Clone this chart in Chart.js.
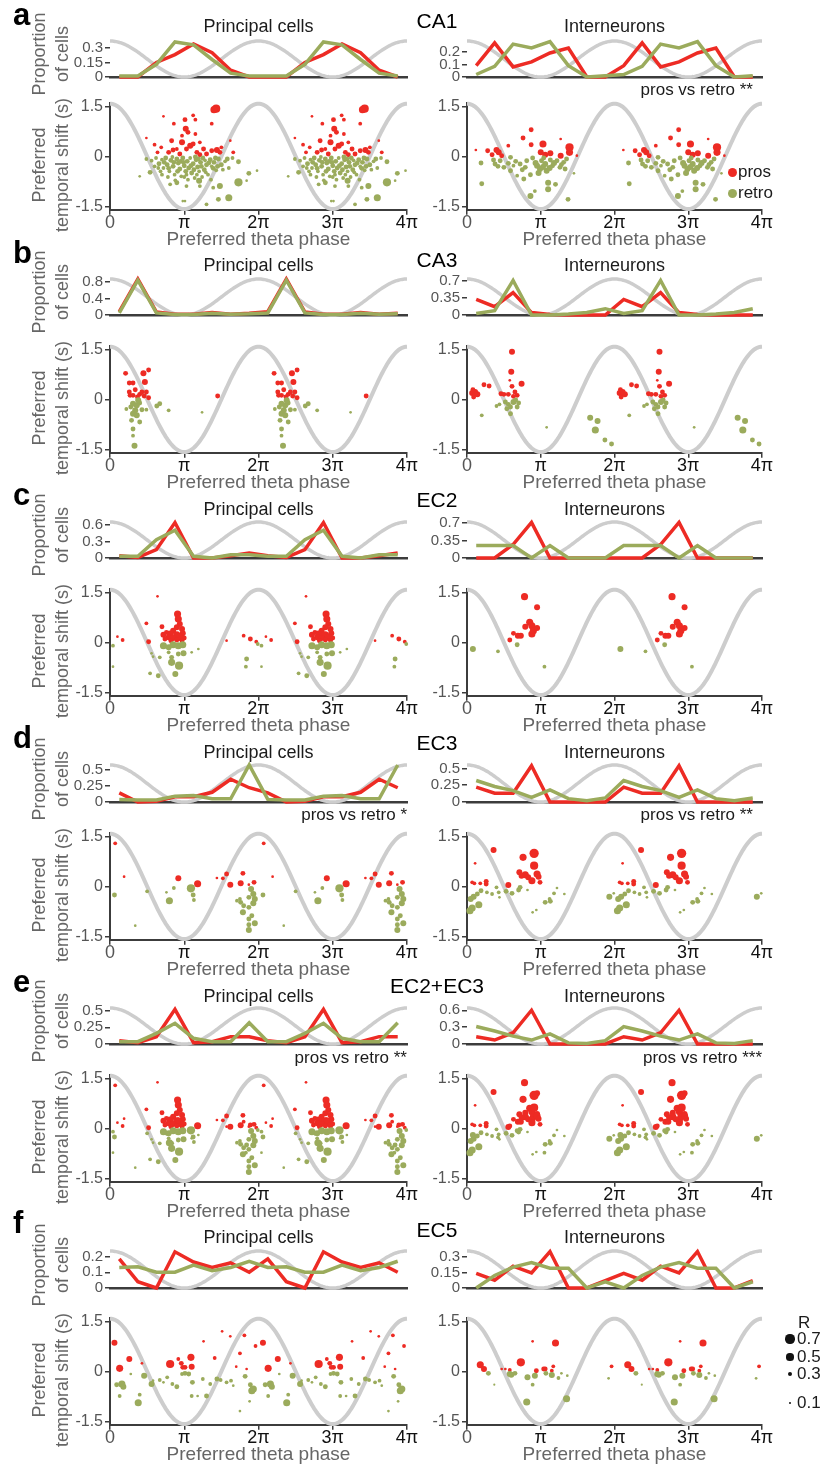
<!DOCTYPE html>
<html>
<head>
<meta charset="utf-8">
<script src="https://cdn.jsdelivr.net/npm/chart.js@4.4.1/dist/chart.umd.min.js"></script>
<style>
  body { margin:0; background:#fff; width:825px; height:1464px; position:relative; overflow:hidden;
         font-family:"Liberation Sans", Arial, sans-serif; }
  .box { position:absolute; }
  .txt { position:absolute; white-space:nowrap; line-height:1; }
  .dot { position:absolute; border-radius:50%; }
</style>
</head>
<body>
<script>
// phase in units of pi, shift in s, R = theta modulation strength
const binPhase = [0.125, 0.375, 0.625, 0.875, 1.125, 1.375, 1.625, 1.875];
const xTickLabels = ['0', 'π', '2π', '3π', '4π'];
const shiftTicks = [-1.5, 0, 1.5];
const rLegend = [0.7, 0.5, 0.3, 0.1];

// proportion of cells per phase bin (one theta cycle)
const propCa1PrinPros  = [0, 0, 0.15, 0.23, 0.34, 0.25, 0.07, 0];
const propCa1PrinRetro = [0.01, 0.01, 0.13, 0.36, 0.33, 0.18, 0.04, 0.01];
const propCa1IntPros   = [0.09, 0.27, 0.08, 0.12, 0.19, 0.23, 0, 0];
const propCa1IntRetro  = [0.02, 0.085, 0.26, 0.23, 0.28, 0.09, 0, 0.01];
const propCa3PrinPros  = [0.08, 0.87, 0.07, 0.02, 0.02, 0.06, 0.02, 0.04];
const propCa3PrinRetro = [0.05, 0.84, 0.05, 0.01, 0.01, 0.04, 0.02, 0.03];
const propCa3IntPros   = [0.32, 0.17, 0.46, 0.05, 0.01, 0, 0, 0];
const propCa3IntRetro  = [0.03, 0.09, 0.71, 0, 0, 0.02, 0.05, 0.13];
const propEc2PrinPros  = [0.04, 0.01, 0.15, 0.64, 0, 0, 0.04, 0.09];
const propEc2PrinRetro = [0.03, 0.03, 0.33, 0.5, 0.03, 0, 0.06, 0.06];
const propEc2IntPros   = [0, 0, 0.27, 0.71, 0, 0, 0, 0];
const propEc2IntRetro  = [0.25, 0.25, 0.25, 0, 0.25, 0, 0, 0];
const propEc3PrinPros  = [0.14, 0, 0.01, 0.08, 0.08, 0.15, 0.35, 0.22];
const propEc3PrinRetro = [0.04, 0.03, 0.03, 0.09, 0.1, 0.05, 0.05, 0.57];
const propEc3IntPros   = [0.22, 0.13, 0.13, 0.54, 0, 0, 0, 0];
const propEc3IntRetro  = [0.32, 0.23, 0.17, 0.07, 0.18, 0.05, 0.02, 0.06];
const propEc23PrinPros  = [0.05, 0.02, 0.11, 0.52, 0.02, 0.035, 0.11, 0.11];
const propEc23PrinRetro = [0.035, 0.035, 0.16, 0.31, 0.085, 0.035, 0.035, 0.32];
const propEc23IntPros   = [0.13, 0.07, 0.2, 0.6, 0, 0, 0, 0];
const propEc23IntRetro  = [0.31, 0.23, 0.14, 0.07, 0.18, 0.02, 0.01, 0.06];
const propEc5PrinPros  = [0.185, 0.04, 0, 0.23, 0.165, 0.13, 0.16, 0.1];
const propEc5PrinRetro = [0.13, 0.135, 0.1, 0.1, 0.145, 0.11, 0.13, 0.17];
const propEc5IntPros   = [0.14, 0.075, 0.21, 0.145, 0.35, 0, 0, 0.07];
const propEc5IntRetro  = [0, 0.12, 0.2, 0.245, 0.19, 0.19, 0, 0.06];

const propTicksCa1Prin = [0, 0.15, 0.3], propTicksCa1Int = [0, 0.1, 0.2];
const propTicksCa3Prin = [0, 0.4, 0.8],  propTicksCa3Int = [0, 0.35, 0.7];
const propTicksEc2Prin = [0, 0.3, 0.6],  propTicksEc2Int = [0, 0.35, 0.7];
const propTicksEc3Prin = [0, 0.25, 0.5], propTicksEc3Int = [0, 0.25, 0.5];
const propTicksEc23Prin = [0, 0.25, 0.5], propTicksEc23Int = [0, 0.3, 0.6];
const propTicksEc5Prin = [0, 0.1, 0.2],  propTicksEc5Int = [0, 0.15, 0.3];

// single cells: [phase, shift, R]
const ca1PrinPros = [[1.43,1.43,0.6],[1.40,1.40,0.5],[1.12,1.23,0.2],[0.72,1.2,0.1],[1.01,1.1,0.3],[1.15,1.1,0.2],[1.37,0.98,0.2],[0.49,0.55,0.1],[0.86,0.98,0.2],[1.02,0.83,0.4],[1.05,0.72,0.3],[0.97,0.62,0.2],[1.15,0.67,0.2],[0.83,0.47,0.3],[0.97,0.42,0.4],[1.08,0.32,0.4],[1.12,0.37,0.3],[1.21,0.42,0.2],[0.6,0.35,0.2],[0.69,0.27,0.2],[0.85,0.19,0.3],[0.79,0.12,0.3],[0.9,0.22,0.2],[1.03,0.22,0.3],[1.26,0.22,0.3],[1.37,0.17,0.3],[1.48,0.12,0.3],[1.62,0.47,0.1],[1.66,0.12,0.2],[0.64,0.12,0.2],[1.17,0.12,0.3],[1.3,0.07,0.3],[0.94,0.07,0.3],[1.44,0.19,0.4],[1.5,0.27,0.2],[1.21,0.05,0.3]];
const ca1PrinRetro = [[0.4,-0.6,0.1],[0.54,-0.48,0.3],[0.56,-0.13,0.2],[0.49,-0.08,0.2],[1.73,-0.78,0.6],[1.6,-1.24,0.5],[1.46,-1.29,0.3],[1.3,-1.44,0.2],[0.98,-1.34,0.1],[1.01,-1.34,0.1],[1.48,-0.89,0.4],[1.87,-0.51,0.3],[1.98,-0.43,0.1],[1.84,-0.73,0.1],[1.73,-0.16,0.3],[1.2,-0.73,0.4],[1.39,-0.94,0.2],[1.21,-0.89,0.2],[0.81,-0.84,0.2],[0.9,-0.79,0.3],[1.03,-0.89,0.2],
  [0.62,-0.05,0.2],[0.66,-0.22,0.3],[0.7,-0.1,0.2],[0.72,-0.35,0.2],[0.75,-0.05,0.3],[0.77,-0.25,0.3],[0.8,-0.45,0.2],[0.82,-0.12,0.3],[0.85,-0.3,0.3],[0.87,-0.55,0.2],[0.9,-0.08,0.3],[0.92,-0.2,0.3],[0.94,-0.38,0.3],[0.96,-0.6,0.2],[0.98,-0.05,0.3],[1.0,-0.28,0.3],[1.02,-0.45,0.3],[1.04,-0.15,0.3],[1.06,-0.35,0.3],[1.08,-0.05,0.2],[1.1,-0.5,0.3],[1.12,-0.22,0.3],[1.14,-0.65,0.2],[1.16,-0.1,0.3],[1.18,-0.32,0.3],[1.2,-0.45,0.2],[1.22,-0.18,0.3],[1.25,-0.05,0.3],[1.27,-0.4,0.3],[1.3,-0.25,0.3],[1.32,-0.55,0.2],[1.35,-0.1,0.3],[1.37,-0.3,0.2],[1.4,-0.18,0.3],[1.43,-0.42,0.2],[1.46,-0.08,0.3],[1.5,-0.25,0.3],[1.55,-0.15,0.2],[1.6,-0.35,0.2],[1.65,-0.05,0.2],[0.6,-0.3,0.2],[0.68,-0.45,0.2],[0.78,-0.62,0.2],[0.88,-0.72,0.2],[1.05,-0.7,0.2],[1.24,-0.62,0.2],[1.36,-0.7,0.2],[0.95,-0.15,0.3],[1.15,-0.02,0.3],[0.84,-0.02,0.2],[1.28,-0.12,0.2],[1.45,-0.3,0.3],
  [0.73,-0.18,0.3],[0.79,-0.36,0.3],[0.86,-0.18,0.3],[0.91,-0.45,0.3],[0.99,-0.18,0.3],[1.03,-0.55,0.2],[1.09,-0.28,0.3],[1.13,-0.4,0.3],[1.19,-0.08,0.3],[1.23,-0.3,0.3],[1.29,-0.48,0.2],[1.33,-0.2,0.3],[1.39,-0.36,0.3],[1.42,-0.05,0.3],[1.52,-0.4,0.2],[1.58,-0.08,0.3],[0.65,-0.35,0.2],[0.7,-0.55,0.2],[1.0,-0.62,0.2],[1.17,-0.55,0.2]];
const ca1IntPros = [[0.12,0.19,0.1],[0.28,0.17,0.3],[0.34,0.05,0.3],[0.4,0.19,0.4],[0.43,0.12,0.4],[0.47,0.02,0.3],[0.56,0.32,0.2],[0.76,0.55,0.3],[0.87,0.8,0.3],[0.87,0.35,0.3],[1.03,0.37,0.5],[1.0,0.12,0.4],[1.06,0.05,0.4],[1.13,0.09,0.4],[1.27,0.52,0.1],[1.27,0.02,0.4],[1.39,0.27,0.6],[1.39,0.12,0.5],[1.49,0.02,0.1]];
const ca1IntRetro = [[0.19,-0.2,0.3],[0.2,-0.82,0.3],[0.36,-0.11,0.3],[0.38,-0.23,0.3],[0.45,-0.13,0.3],[0.5,-0.33,0.3],[0.56,-0.21,0.3],[0.59,-0.43,0.3],[0.63,-0.28,0.2],[0.68,-0.58,0.2],[0.72,-0.23,0.3],[0.77,-0.68,0.3],[0.79,-0.33,0.3],[0.86,-0.55,0.3],[0.86,-1.19,0.4],[0.89,-0.05,0.3],[0.92,-1.04,0.2],[0.95,-0.28,0.4],[0.99,-0.38,0.4],[1.01,-0.13,0.3],[1.06,-0.23,0.4],[1.08,-0.43,0.4],[1.1,-0.79,0.4],[1.1,-0.99,0.4],[1.13,-0.11,0.3],[1.16,-0.28,0.3],[1.2,-0.84,0.3],[1.22,-0.13,0.3],[1.26,-0.33,0.3],[1.31,-0.18,0.3],[1.33,-0.38,0.3],[1.35,-0.08,0.3],[1.37,-1.29,0.3],[1.45,-0.51,0.1],[0.59,-0.03,0.3],[0.81,-0.13,0.3],[1.04,-0.05,0.3],[0.93,-0.2,0.4],
  [0.42,-0.3,0.3],[0.66,-0.15,0.3],[0.75,-0.4,0.3],[0.97,-0.5,0.4],[1.03,-0.32,0.4],[1.18,-0.2,0.4],[1.28,-0.25,0.3],[1.12,-0.35,0.4]];

const ca3PrinPros = [[0.21,0.78,0.3],[0.26,0.49,0.3],[0.31,0.49,0.3],[0.26,0.22,0.3],[0.27,0.12,0.3],[0.34,0.29,0.3],[0.31,0.12,0.3],[0.4,0.15,0.3],[0.43,0.22,0.3],[0.45,0.78,0.4],[0.52,0.88,0.3],[0.47,0.52,0.4],[0.49,0.22,0.3],[0.46,0.1,0.3],[0.52,0.05,0.3],[0.37,0.07,0.3],[1.45,0.1,0.3]];
const ca3PrinRetro = [[0.22,-0.29,0.2],[0.28,-0.23,0.3],[0.31,-0.13,0.4],[0.34,-0.33,0.4],[0.36,-0.18,0.4],[0.31,-0.43,0.4],[0.36,-0.48,0.4],[0.29,-0.63,0.3],[0.4,-0.68,0.3],[0.31,-0.89,0.3],[0.31,-1.09,0.2],[0.33,-1.39,0.4],[0.4,-0.11,0.3],[0.43,-0.31,0.3],[0.49,-0.31,0.2],[0.63,-0.2,0.3],[0.67,-0.13,0.3],[0.79,-0.33,0.2],[1.24,-0.39,0.1],[0.38,-0.03,0.4]];
const ca3IntPros = [[0.07,0.19,0.4],[0.09,0.07,0.3],[0.11,0.22,0.4],[0.14,0.15,0.4],[0.08,0.29,0.3],[0.23,0.44,0.3],[0.3,0.4,0.3],[0.46,0.17,0.3],[0.5,0.15,0.3],[0.61,1.43,0.4],[0.6,0.83,0.4],[0.58,0.57,0.1],[0.61,0.39,0.3],[0.65,0.22,0.3],[0.74,0.47,0.4],[0.56,0.15,0.3],[0.63,0.09,0.3],[0.68,0.12,0.3]];
const ca3IntRetro = [[0.2,-0.48,0.2],[0.4,-0.2,0.2],[0.44,-0.15,0.2],[0.52,-0.08,0.3],[0.56,-0.15,0.3],[0.54,-0.28,0.3],[0.59,-0.43,0.3],[0.63,-0.08,0.4],[0.68,-0.23,0.3],[0.7,-0.11,0.3],[0.59,-0.23,0.3],[0.66,-0.02,0.3],[1.08,-0.84,0.1],[1.67,-0.55,0.4],[1.77,-0.65,0.4],[1.74,-0.92,0.5],[1.87,-1.22,0.3],[1.96,-1.34,0.3]];

const ec2PrinPros = [[0.1,0.17,0.1],[0.17,0.07,0.2],[0.64,1.38,0.1],[0.49,0.57,0.2],[0.52,0.02,0.3],[0.7,0.47,0.3],[0.91,0.85,0.5],[0.92,0.7,0.5],[0.94,0.55,0.4],[0.9,0.45,0.4],[0.97,0.4,0.4],[0.85,0.35,0.4],[0.76,0.3,0.3],[0.72,0.23,0.4],[0.81,0.25,0.5],[0.9,0.23,0.5],[0.98,0.27,0.4],[0.79,0.15,0.4],[0.85,0.13,0.4],[0.94,0.15,0.5],[1.0,0.13,0.3],[0.74,0.1,0.3],[0.9,0.07,0.3],[0.82,0.05,0.3],[0.97,0.05,0.3],[1.57,0.05,0.1],[1.8,0.2,0.2],[1.89,0.1,0.3],[1.97,0.02,0.2]];
const ec2PrinRetro = [[0.04,-0.1,0.2],[0.04,-0.73,0.1],[0.56,-0.33,0.1],[0.58,-0.43,0.1],[0.54,-0.93,0.2],[0.65,-1.0,0.3],[0.67,-0.45,0.2],[0.72,-0.1,0.5],[0.79,-0.15,0.4],[0.85,-0.07,0.5],[0.92,-0.1,0.5],[0.98,-0.07,0.5],[0.83,-0.6,0.5],[0.83,-0.45,0.3],[0.93,-0.7,0.6],[0.88,-0.95,0.4],[0.92,-0.35,0.3],[0.99,-0.33,0.4],[0.79,-0.3,0.2],[1.1,-0.3,0.1],[1.19,-0.2,0.1],[1.84,-0.5,0.3],[1.83,-0.73,0.2],[1.99,-0.05,0.2]];
const ec2IntPros = [[0.58,0.07,0.3],[0.63,0.27,0.3],[0.69,0.2,0.4],[0.73,0.2,0.4],[0.78,1.37,0.5],[0.79,0.47,0.4],[0.85,0.6,0.5],[0.88,0.5,0.5],[0.9,0.35,0.5],[0.88,0.25,0.5],[0.95,0.43,0.4],[0.95,1.05,0.4]];
const ec2IntRetro = [[0.08,-0.2,0.4],[0.42,-0.27,0.2],[0.68,-0.07,0.3],[1.05,-0.73,0.2]];

const ec3PrinPros = [[0.07,1.29,0.2],[0.19,0.29,0.1],[0.92,0.24,0.4],[1.18,0.08,0.5],[1.44,0.25,0.1],[1.52,0.24,0.2],[1.57,0.37,0.3],[1.62,0.05,0.4],[1.79,0.39,0.3],[1.76,0.09,0.4],[1.94,0.12,0.3],[1.87,0.05,0.1]];
const ec3PrinRetro = [[0.06,-0.26,0.3],[0.34,-1.18,0.1],[0.5,-0.15,0.2],[0.76,-0.18,0.1],[0.8,-0.43,0.5],[0.86,-0.05,0.2],[1.09,-0.06,0.6],[1.12,-0.26,0.3],[1.13,-0.41,0.2],[1.71,-0.43,0.2],[1.76,-0.48,0.3],[1.8,-0.58,0.3],[1.87,-0.33,0.3],[1.9,-0.08,0.4],[1.93,-0.23,0.4],[1.95,-0.38,0.4],[1.93,-0.51,0.4],[1.87,-0.63,0.3],[1.79,-0.78,0.4],[1.91,-0.88,0.3],[1.87,-0.98,0.3],[1.95,-1.11,0.4],[1.87,-1.15,0.3],[1.87,-1.31,0.4],[1.75,-0.38,0.2]];
const ec3IntPros = [[0.07,0.12,0.2],[0.11,0.69,0.1],[0.1,0.09,0.2],[0.18,0.09,0.2],[0.26,0.15,0.3],[0.26,0.07,0.3],[0.36,1.09,0.4],[0.56,0.04,0.4],[0.76,0.87,0.5],[0.91,0.99,0.7],[0.91,0.62,0.6],[0.71,0.42,0.4],[0.79,0.35,0.5],[0.83,0.27,0.4],[0.88,0.17,0.5],[0.95,0.37,0.5],[0.97,0.29,0.4],[0.99,0.12,0.3],[0.74,0.32,0.4]];
const ec3IntRetro = [[0.04,-0.73,0.5],[0.07,-0.65,0.5],[0.05,-0.38,0.4],[0.09,-0.31,0.4],[0.16,-0.55,0.5],[0.14,-0.23,0.3],[0.19,-0.13,0.3],[0.27,-0.18,0.2],[0.34,-0.23,0.2],[0.4,-0.03,0.2],[0.43,-0.18,0.2],[0.44,-0.33,0.1],[0.53,-0.15,0.3],[0.61,-0.21,0.3],[0.7,-0.11,0.3],[0.72,-0.03,0.3],[0.82,-0.11,0.1],[0.94,-0.71,0.1],[0.89,-0.78,0.1],[1.06,-0.48,0.3],[1.13,-0.45,0.3],[1.12,-0.38,0.2],[1.22,-0.05,0.1],[1.18,-0.21,0.2],[1.32,-0.23,0.1],[1.93,-0.31,0.4],[1.99,-0.21,0.1]];

// EC2+EC3 panels show the pooled cells of both layers
const ec23PrinPros = [...ec2PrinPros, ...ec3PrinPros];
const ec23PrinRetro = [...ec2PrinRetro, ...ec3PrinRetro];
const ec23IntPros = [...ec2IntPros, ...ec3IntPros];
const ec23IntRetro = [...ec2IntRetro, ...ec3IntRetro];

const ec5PrinPros = [[0.06,0.86,0.4],[0.13,0.09,0.5],[0.26,0.37,0.4],[0.43,0.24,0.1],[0.81,0.22,0.6],[0.92,0.37,0.2],[0.98,0.12,0.3],[0.96,0.24,0.3],[1.01,0.12,0.3],[1.09,0.42,0.5],[1.1,0.14,0.4],[1.26,0.9,0.1],[1.41,0.4,0.2],[1.51,1.2,0.1],[1.62,1.05,0.1],[1.7,0.14,0.1],[1.75,0.54,0.2],[1.81,1.08,0.2],[1.84,0.07,0.1],[1.96,0.76,0.2]];
const ec5PrinRetro = [[0.09,-0.4,0.3],[0.16,-0.38,0.5],[0.18,-0.46,0.4],[0.13,-0.74,0.2],[0.28,-0.08,0.1],[0.38,-0.94,0.5],[0.4,-0.7,0.2],[0.46,-0.13,0.4],[0.56,-0.38,0.4],[0.58,-0.28,0.1],[0.67,-0.26,0.2],[0.72,-0.33,0.1],[0.77,-0.18,0.2],[0.84,-0.38,0.2],[0.9,-0.46,0.3],[0.97,-0.08,0.2],[1.01,-0.06,0.3],[1.06,-0.08,0.3],[1.11,-0.33,0.3],[1.1,-0.74,0.2],[1.18,-0.74,0.1],[1.25,-0.23,0.2],[1.3,-0.74,0.3],[1.35,-0.38,0.2],[1.44,-0.23,0.3],[1.49,-0.26,0.2],[1.57,-0.33,0.2],[1.63,-0.28,0.2],[1.66,-0.43,0.1],[1.75,-1.19,0.1],[1.82,-0.15,0.3],[1.89,-0.4,0.3],[1.91,-0.58,0.5],[1.93,-0.53,0.5],[1.88,-0.9,0.1]];
const ec5IntPros = [[0.18,0.2,0.5],[0.23,0.07,0.4],[0.47,0.07,0.1],[0.52,0.07,0.1],[0.58,0.04,0.2],[0.73,0.27,0.6],[0.89,0.9,0.1],[0.94,0.02,0.3],[1.04,0.07,0.3],[1.06,0.07,0.3],[1.15,0.02,0.2],[1.17,0.15,0.2],[1.2,0.85,0.5],[1.96,0.15,0.2]];
const ec5IntRetro = [[0.29,-0.06,0.3],[0.37,-0.4,0.05],[0.58,-0.08,0.4],[0.6,-0.1,0.4],[0.65,-0.06,0.3],[0.81,-0.92,0.5],[0.82,-0.18,0.4],[0.89,-0.4,0.2],[0.92,-0.13,0.4],[1.07,-0.06,0.3],[1.15,-0.11,0.4],[1.24,-0.2,0.2],[1.28,-0.06,0.1],[1.35,-0.82,0.5],[1.36,-0.13,0.1],[1.92,-0.21,0.1]];

// ---- layout / style ----
const RED = '#ed2b24', GREEN = '#9bab5c', AXIS = '#3c3c3c';
const FONT = '"Liberation Sans", Arial, sans-serif';
Chart.defaults.font.family = FONT;
const radiusOf = R => 0.8 + 5.5 * R;

const rows = [
  { letter:'a', region:'CA1', top:[41,77], s15:106, letterY:25, regionY:28, titleY:32,
    prin:{ pros:ca1PrinPros, retro:ca1PrinRetro, propPros:propCa1PrinPros, propRetro:propCa1PrinRetro, max:0.37, ticks:propTicksCa1Prin },
    inter:{ pros:ca1IntPros, retro:ca1IntRetro, propPros:propCa1IntPros, propRetro:propCa1IntRetro, max:0.285, ticks:propTicksCa1Int } },
  { letter:'b', region:'CA3', top:[279,315], s15:349, letterY:263, regionY:267, titleY:271,
    prin:{ pros:ca3PrinPros, retro:ca3PrinRetro, propPros:propCa3PrinPros, propRetro:propCa3PrinRetro, max:0.87, ticks:propTicksCa3Prin },
    inter:{ pros:ca3IntPros, retro:ca3IntRetro, propPros:propCa3IntPros, propRetro:propCa3IntRetro, max:0.74, ticks:propTicksCa3Int } },
  { letter:'c', region:'EC2', top:[522,558], s15:592, letterY:505, regionY:507, titleY:515,
    prin:{ pros:ec2PrinPros, retro:ec2PrinRetro, propPros:propEc2PrinPros, propRetro:propEc2PrinRetro, max:0.65, ticks:propTicksEc2Prin },
    inter:{ pros:ec2IntPros, retro:ec2IntRetro, propPros:propEc2IntPros, propRetro:propEc2IntRetro, max:0.72, ticks:propTicksEc2Int } },
  { letter:'d', region:'EC3', top:[765,802], s15:836, letterY:748, regionY:750, titleY:758,
    prin:{ pros:ec3PrinPros, retro:ec3PrinRetro, propPros:propEc3PrinPros, propRetro:propEc3PrinRetro, max:0.57, ticks:propTicksEc3Prin },
    inter:{ pros:ec3IntPros, retro:ec3IntRetro, propPros:propEc3IntPros, propRetro:propEc3IntRetro, max:0.55, ticks:propTicksEc3Int } },
  { letter:'e', region:'EC2+EC3', top:[1008,1044], s15:1078, letterY:992, regionY:993, titleY:1002,
    prin:{ pros:ec23PrinPros, retro:ec23PrinRetro, propPros:propEc23PrinPros, propRetro:propEc23PrinRetro, max:0.54, ticks:propTicksEc23Prin },
    inter:{ pros:ec23IntPros, retro:ec23IntRetro, propPros:propEc23IntPros, propRetro:propEc23IntRetro, max:0.64, ticks:propTicksEc23Int } },
  { letter:'f', region:'EC5', top:[1251,1288], s15:1321, letterY:1233, regionY:1237, titleY:1243,
    prin:{ pros:ec5PrinPros, retro:ec5PrinRetro, propPros:propEc5PrinPros, propRetro:propEc5PrinRetro, max:0.235, ticks:propTicksEc5Prin },
    inter:{ pros:ec5IntPros, retro:ec5IntRetro, propPros:propEc5IntPros, propRetro:propEc5IntRetro, max:0.355, ticks:propTicksEc5Int } }
];

const stats = [
  { text:'pros vs retro **',  x:753, y:95 },
  { text:'pros vs retro *',   x:407, y:820 },
  { text:'pros vs retro **',  x:753, y:820 },
  { text:'pros vs retro **',  x:407, y:1063 },
  { text:'pros vs retro ***', x:762, y:1063 }
];

const cols = [
  { x0:0,   w:420, right:407, yW:110, title:'Principal cells', cx:258.5, key:'prin' },
  { x0:420, w:405, right:762, yW:47,  title:'Interneurons',    cx:614.5, key:'inter' }
];

// grey theta reference drawn under the data
Chart.register({
  id: 'guide',
  beforeDatasetsDraw(chart, args, opts) {
    const { ctx, scales: { x, y } } = chart;
    ctx.save();
    ctx.beginPath();
    for (let i = 0; i <= 240; i++) {
      const p = 4 * i / 240;
      const v = opts.lo + (opts.hi - opts.lo) * (1 + Math.cos(p * Math.PI)) / 2;
      const px = x.getPixelForValue(p), py = y.getPixelForValue(v);
      if (i) ctx.lineTo(px, py); else ctx.moveTo(px, py);
    }
    ctx.strokeStyle = '#cdcdcd';
    ctx.lineWidth = opts.width;
    ctx.stroke();
    ctx.restore();
  }
});

const zeroPad = s => { s.paddingLeft = 0; s.paddingRight = 0; s.paddingTop = 0; s.paddingBottom = 0; };
const twoCycles = pts => [0, 2].flatMap(off => pts.map(([p, s, R]) => ({ x: p + off, y: s, r: radiusOf(R) })));
const propLine = vals => [0, 2].flatMap(off => binPhase.map((p, i) => ({ x: p + off, y: vals[i] })));

function canvasAt(left, top, w, h) {
  const d = document.createElement('div');
  d.className = 'box';
  Object.assign(d.style, { left: left + 'px', top: top + 'px', width: w + 'px', height: h + 'px' });
  const c = document.createElement('canvas');
  d.appendChild(c);
  document.body.appendChild(d);
  return c;
}

function text(str, x, base, size, opt = {}) {
  const d = document.createElement('div');
  d.className = 'txt';
  d.textContent = str;
  d.style.fontSize = size + 'px';
  d.style.top = (base - 0.85 * size) + 'px';
  d.style.color = opt.color || '#1b1b1b';
  if (opt.bold) d.style.fontWeight = 'bold';
  if (opt.align === 'right') d.style.right = (825 - x) + 'px';
  else if (opt.align === 'center') { d.style.left = (x - 200) + 'px'; d.style.width = '400px'; d.style.textAlign = 'center'; }
  else d.style.left = x + 'px';
  document.body.appendChild(d);
}

// rotated two-line axis title, centred on (cx, cy)
function yTitle(lines, cx, cy) {
  const d = document.createElement('div');
  d.className = 'txt';
  d.textContent = lines.join('\n');
  Object.assign(d.style, { whiteSpace: 'pre', left: (cx - 110) + 'px', top: (cy - 23) + 'px', width: '220px', height: '46px',
    lineHeight: '23px', textAlign: 'center', fontSize: '18px', color: '#666', transform: 'rotate(-90deg)' });
  document.body.appendChild(d);
}

function dot(cx, cy, r, color) {
  const d = document.createElement('div');
  d.className = 'dot';
  Object.assign(d.style, { left: (cx - r) + 'px', top: (cy - r) + 'px', width: 2 * r + 'px', height: 2 * r + 'px', background: color });
  document.body.appendChild(d);
}

function topChart(col, area, spec) {
  const padT = 27, padB = 27, xH = 2;
  const c = canvasAt(col.x0, area[0] - padT, col.w, area[1] - area[0] + padT + padB);
  new Chart(c, {
    type: 'line',
    data: { datasets: [
      { data: propLine(spec.propRetro), borderColor: GREEN, borderWidth: 3.5, pointRadius: 0, tension: 0, clip: false },
      { data: propLine(spec.propPros),  borderColor: RED,   borderWidth: 3.5, pointRadius: 0, tension: 0, clip: false }
    ]},
    options: {
      responsive: true, maintainAspectRatio: false, animation: false, events: [],
      layout: { padding: { left: 0, right: col.x0 + col.w - col.right, top: padT, bottom: padB - xH } },
      plugins: { legend: { display: false }, tooltip: { enabled: false }, guide: { lo: 0, hi: spec.max, width: 3.5 } },
      scales: {
        x: { type: 'linear', min: 0, max: 4, ticks: { display: false }, grid: { display: false },
             border: { color: AXIS, width: 2.5 }, afterFit: s => { s.height = xH; zeroPad(s); } },
        y: { type: 'linear', min: 0, max: spec.max,
             afterBuildTicks: s => { s.ticks = spec.ticks.map(v => ({ value: v })); },
             ticks: { font: { size: 15, lineHeight: 1 }, color: '#555', padding: 2, autoSkip: false, callback: v => String(v) },
             grid: { drawOnChartArea: false, tickLength: 5, color: AXIS, lineWidth: 1.5 },
             border: { display: false },
             afterFit: s => { s.width = col.yW; zeroPad(s); } }
      }
    }
  });
}

function scatterChart(col, s15, spec) {
  const padT = 20, xH = 41;
  const yTop = s15 - 3.33, yBot = s15 + 103.33;
  const c = canvasAt(col.x0, yTop - padT, col.w, yBot - yTop + padT + xH);
  new Chart(c, {
    type: 'bubble',
    data: { datasets: [
      { data: twoCycles(spec.retro), backgroundColor: GREEN, borderWidth: 0, clip: false },
      { data: twoCycles(spec.pros),  backgroundColor: RED,   borderWidth: 0, clip: false }
    ]},
    options: {
      responsive: true, maintainAspectRatio: false, animation: false, events: [],
      layout: { padding: { left: 0, right: col.x0 + col.w - col.right, top: padT, bottom: 0 } },
      plugins: { legend: { display: false }, tooltip: { enabled: false }, guide: { lo: -1.58, hi: 1.58, width: 4 } },
      scales: {
        x: { type: 'linear', min: 0, max: 4,
             afterBuildTicks: s => { s.ticks = xTickLabels.map((t, i) => ({ value: i })); },
             ticks: { callback: (v, i) => xTickLabels[i], font: { size: 18, lineHeight: 0.9 }, padding: 0,
                      color: ctx => ctx.index === 0 ? '#555' : '#111', maxRotation: 0, autoSkip: false },
             grid: { drawOnChartArea: false, tickLength: 5, color: AXIS, lineWidth: 1.5 },
             border: { color: AXIS, width: 2 },
             title: { display: true, text: 'Preferred theta phase', color: '#666', font: { size: 19 }, padding: 0 },
             afterFit: s => { s.height = xH; zeroPad(s); } },
        y: { type: 'linear', min: -1.6, max: 1.6,
             afterBuildTicks: s => { s.ticks = shiftTicks.map(v => ({ value: v })); },
             ticks: { font: { size: 16 }, color: '#555', padding: 2, autoSkip: false, callback: v => String(v) },
             grid: { drawOnChartArea: false, tickLength: 5, color: AXIS, lineWidth: 1.5 },
             border: { color: AXIS, width: 2 },
             afterFit: s => { s.width = col.yW; zeroPad(s); } }
      }
    }
  });
}

// build all panels
rows.forEach(row => {
  cols.forEach(col => {
    topChart(col, row.top, row[col.key]);
    scatterChart(col, row.s15, row[col.key]);
    text(col.title, col.cx, row.titleY, 18, { align: 'center' });
  });
  yTitle(['Proportion', 'of cells'], 50.5, (row.top[0] + row.top[1]) / 2 - 5);
  yTitle(['Preferred', 'temporal shift (s)'], 50.5, row.s15 + 59);
  text(row.letter, 13, row.letterY, 31, { bold: true, color: '#000' });
  text(row.region, 437, row.regionY, 21, { align: 'center', color: '#000' });
});

stats.forEach(s => text(s.text, s.x, s.y, 17, { align: 'right' }));

// pros / retro key
dot(732, 172, 4.5, RED);   text('pros', 738, 177, 17);
dot(732, 193, 4.5, GREEN); text('retro', 738, 198, 17);

// R size key
text('R', 798, 1328, 17);
const rKeyY = [1339, 1357, 1374, 1403];
rLegend.forEach((R, i) => {
  dot(790, rKeyY[i], radiusOf(R), '#111');
  text(String(R), 797, rKeyY[i] + 5, 17);
});
</script>
</body>
</html>
